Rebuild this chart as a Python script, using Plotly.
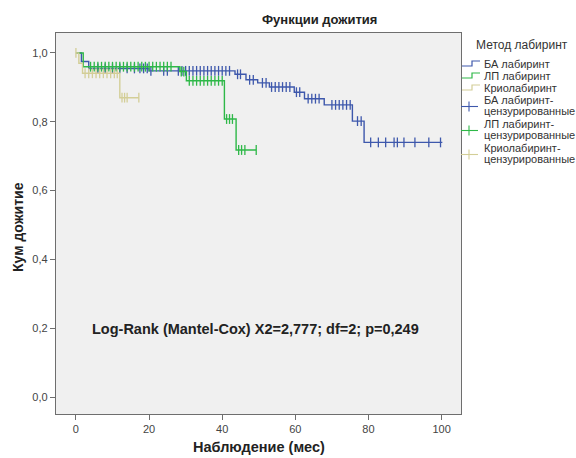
import numpy as np
import plotly.graph_objects as go

# ---------------- data ----------------
group_names = ["БА лабиринт", "ЛП лабиринт", "Криолабиринт"]
censored_names = [["БА лабиринт-", "цензурированные"],
                  ["ЛП лабиринт-", "цензурированные"],
                  ["Криолабиринт-", "цензурированные"]]
colors = ["#3E58AC", "#2EB848", "#D3CE97"]

ba_times = [0, 1.5, 3.5, 20.0, 43.5, 46.5, 49.7, 52.9, 59.7, 62.5, 67.9, 75.6, 78.8]
ba_surv = [1.0, 0.975, 0.955, 0.948, 0.938, 0.922, 0.913, 0.901, 0.886, 0.867, 0.849, 0.802, 0.740]
ba_end = 100.2
ba_cens = [6, 8, 10, 12, 14, 16, 17.5, 18.5, 19.5, 20.5, 24, 25, 28, 29, 30, 31, 32, 33,
           34, 35, 36, 37, 38, 39, 40, 41, 42, 44.2, 45, 47.5, 48.5, 51, 52, 53.5, 54.5,
           55.5, 56.5, 57.5, 58.5, 60.3, 61.2, 63.5, 64.5, 65.5, 66.5, 70, 71, 72, 73, 74,
           75, 77, 78, 80.6, 82.7, 84.7, 87, 87.9, 89.7, 92.7, 96.5, 99.7]

lp_times = [0, 2.0, 28.4, 30.2, 40.6, 43.8]
lp_surv = [1.0, 0.960, 0.946, 0.919, 0.808, 0.718]
lp_end = 49.3
lp_cens = [4, 5, 6, 7, 8, 9, 10, 11, 12, 13, 14, 15, 16, 17, 18, 19, 20, 21, 22, 23, 24,
           25, 26, 28.8, 29.5, 31, 32, 33, 34, 35, 36, 37, 38, 39, 40, 41.2, 42, 42.8,
           44.5, 45.3, 46.2, 49.3]

cryo_times = [0, 0.8, 1.8, 12.0]
cryo_surv = [1.0, 0.970, 0.941, 0.870]
cryo_end = 17.2
cryo_cens = [0, 2.5, 3.5, 4.5, 5.5, 6.5, 7.5, 8.5, 9.5, 10.5, 11.3, 12.6, 13.3, 14.0, 17.2]

x_ticks = [0, 20, 40, 60, 80, 100]
y_ticks = [0.0, 0.2, 0.4, 0.6, 0.8, 1.0]

title_text = "Функции дожития"
x_title = "Наблюдение (мес)"
y_title = "Кум дожитие"
legend_title = "Метод лабиринт"
stat_text = "Log-Rank (Mantel-Cox) X2=2,777; df=2; p=0,249"

# ---------------- layout geometry ----------------
W, H = 576, 458
L, R, T, B = 56, 115, 33, 44
PW, PH = W - L - R, H - T - B
FONT = "Liberation Sans, Arial, sans-serif"


def px(xp):
    return (xp - L) / PW


def py(yp):
    return (H - B - yp) / PH


fig = go.Figure()

series = [(ba_times, ba_surv, ba_end, ba_cens),
          (lp_times, lp_surv, lp_end, lp_cens),
          (cryo_times, cryo_surv, cryo_end, cryo_cens)]

for i, (t, s, end, cens) in enumerate(series):
    xs = list(t) + [end]
    ys = list(s) + [s[-1]]
    fig.add_trace(go.Scatter(x=xs, y=ys, mode="lines", line=dict(color=colors[i], width=1.4, shape="hv"),
                             name=group_names[i], showlegend=False, hoverinfo="skip"))
    ta = np.array(t)
    idx = np.searchsorted(ta, np.array(cens), side="right") - 1
    cy = np.array(s)[idx]
    fig.add_trace(go.Scatter(x=cens, y=cy, mode="markers",
                             marker=dict(symbol="line-ns", size=7, line=dict(color=colors[i], width=1.3)),
                             name=" ".join(censored_names[i]), showlegend=False, hoverinfo="skip"))

fig.update_layout(
    width=W, height=H,
    margin=dict(l=L, r=R, t=T, b=B, pad=0),
    paper_bgcolor="white", plot_bgcolor="#F0F0F0",
    separators=", ",
    font=dict(family=FONT, size=11, color="#333333"),
    showlegend=False,
)

axis_common = dict(showgrid=False, zeroline=False, showline=True, linecolor="#6E6E6E", linewidth=1.3,
                   mirror=True, ticks="outside", ticklen=5, tickcolor="#6E6E6E", tickwidth=1.3,
                   tickfont=dict(family=FONT, size=11, color="#444444"))

fig.update_xaxes(range=[-5.45, 105.3], tickvals=x_ticks, ticktext=[str(v) for v in x_ticks],
                 **axis_common)
fig.update_yaxes(range=[-0.0494, 1.058], tickvals=y_ticks,
                 ticktext=[f"{v:.1f}".replace(".", ",") for v in y_ticks], **axis_common)

# titles
fig.add_annotation(text=f"<b>{title_text}</b>", x=px(319), y=py(20), xref="paper", yref="paper",
                   showarrow=False, font=dict(family=FONT, size=13, color="#222222"),
                   xanchor="center", yanchor="middle")
fig.add_annotation(text=f"<b>{x_title}</b>", x=px(259), y=py(447), xref="paper", yref="paper",
                   showarrow=False, font=dict(family=FONT, size=14.5, color="#222222"),
                   xanchor="center", yanchor="middle")
fig.add_annotation(text=f"<b>{y_title}</b>", x=px(18), y=py(227), xref="paper", yref="paper",
                   showarrow=False, textangle=-90, font=dict(family=FONT, size=14, color="#222222"),
                   xanchor="center", yanchor="middle")
fig.add_annotation(text=f"<b>{stat_text}</b>", x=px(90), y=py(329), xref="paper", yref="paper",
                   showarrow=False, font=dict(family=FONT, size=14.5, color="#222222"),
                   xanchor="left", yanchor="middle")

# legend (manual)
fig.add_annotation(text=legend_title, x=px(474), y=py(45), xref="paper", yref="paper",
                   showarrow=False, font=dict(family=FONT, size=12, color="#333333"),
                   xanchor="left", yanchor="middle")
item_y = [64, 76, 88]
for i, name in enumerate(group_names):
    yc = item_y[i]
    fig.add_annotation(text=name, x=px(482), y=py(yc), xref="paper", yref="paper", showarrow=False,
                       font=dict(family=FONT, size=11, color="#333333"), xanchor="left", yanchor="middle")
    fig.add_shape(type="path", xref="paper", yref="paper",
                  path=f"M {px(462)} {py(yc + 2)} L {px(472)} {py(yc + 2)} L {px(472)} {py(yc - 3)} L {px(480)} {py(yc - 3)}",
                  line=dict(color=colors[i], width=1.2))
cens_y = [(100, 111), (124, 135), (148, 159)]
for i, (y1, y2) in enumerate(cens_y):
    for txt, yy in zip(censored_names[i], (y1, y2)):
        fig.add_annotation(text=txt, x=px(482), y=py(yy), xref="paper", yref="paper", showarrow=False,
                           font=dict(family=FONT, size=11, color="#333333"), xanchor="left", yanchor="middle")
    yc = (y1 + y2) / 2 + 1
    fig.add_shape(type="line", xref="paper", yref="paper", x0=px(461), x1=px(478), y0=py(yc), y1=py(yc),
                  line=dict(color=colors[i], width=1.1))
    fig.add_shape(type="line", xref="paper", yref="paper", x0=px(469), x1=px(469), y0=py(yc - 5), y1=py(yc + 5),
                  line=dict(color=colors[i], width=1.1))

fig.write_html("out.html")
